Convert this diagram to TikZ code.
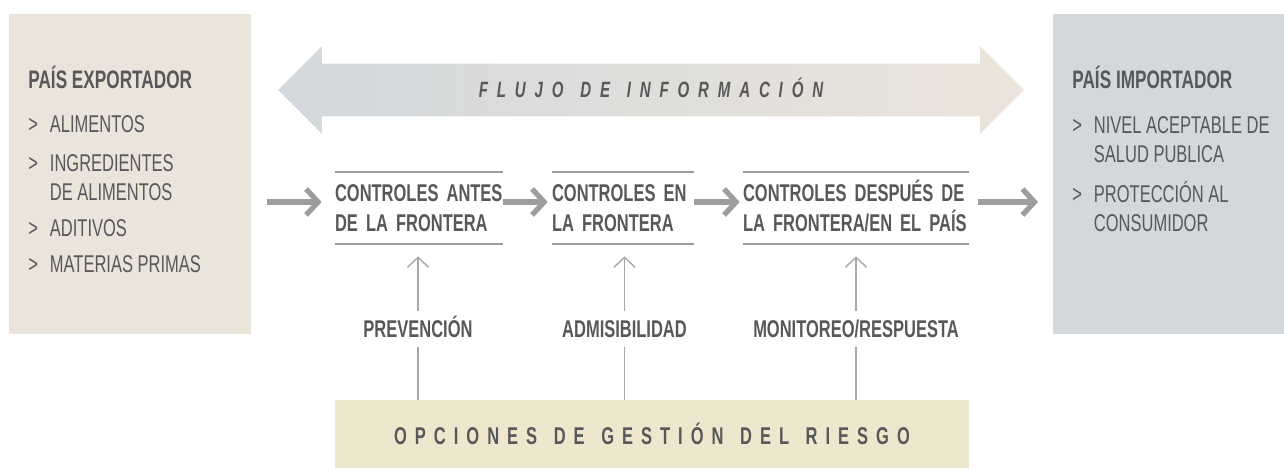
\documentclass[tikz,border=0pt]{standalone}
\usepackage{fontspec}
\setmainfont{Liberation Sans}[FakeStretch=0.68]
\usetikzlibrary{shapes, arrows, arrows.meta}
\definecolor{txtgray}{HTML}{58585A}
\definecolor{expcol}{HTML}{EBE4DA}
\definecolor{impcol}{HTML}{D3D8DC}
\definecolor{optcol}{HTML}{EDE7CD}
\definecolor{arrgray}{HTML}{9D9D9D}
\definecolor{thingray}{HTML}{A8A8A8}
\tikzstyle{panel}=[inner sep=0pt, outer sep=0pt]
\tikzstyle{title}=[anchor=base west, inner sep=0pt,
    font=\fontsize{14.4}{17}\selectfont\bfseries, text=txtgray]
\tikzstyle{list}=[anchor=base west, inner sep=0pt,
    font=\fontsize{13.8}{16.5}\selectfont, text=txtgray]
\tikzstyle{ctrl}=[inner xsep=0pt, inner ysep=0pt, minimum height=1.44cm,
    text height=10pt, text depth=17pt, align=left,
    font=\fontsize{13.8}{17}\selectfont\bfseries, text=txtgray]
\tikzstyle{opt}=[inner xsep=0pt, inner ysep=0.18cm, text height=0.35cm,
    text depth=0pt, font=\fontsize{13.8}{16}\selectfont\bfseries, text=txtgray]
\tikzstyle{rule}=[draw=arrgray, line width=1.1pt]
\tikzstyle{flow}=[draw=arrgray, line width=3pt,
    -{Straight Barb[length=0.24cm, width=0.52cm]}]
\tikzstyle{feed}=[draw=thingray, line width=0.8pt]
\def\gap{0.24cm}

\begin{document}
\begin{tikzpicture}[x=0.02cm, y=-0.02cm]
    \useasboundingbox (0,0) rectangle (1284,469);
    % paises
    \node (exp) [panel, fill=expcol, minimum width=4.84cm, minimum height=6.4cm] at (130,174) {};
    \node (imp) [panel, fill=impcol, minimum width=4.62cm, minimum height=6.4cm] at (1168.5,174) {};
    \node (expt) [title] at (28,89) {PAÍS EXPORTADOR};
    \node (expl) [list] at (28,132.8) {\begin{tabular}[t]{@{}l@{\hspace{0.24cm}}l@{}}
        > & ALIMENTOS\\[5.5pt]
        > & INGREDIENTES\\
          & DE ALIMENTOS\\[4pt]
        > & ADITIVOS\\[4pt]
        > & MATERIAS PRIMAS
    \end{tabular}};
    \node (impt) [title] at (1072,89) {PAÍS IMPORTADOR};
    \node (impl) [list] at (1072,133.8) {\begin{tabular}[t]{@{}l@{\hspace{0.24cm}}l@{}}
        > & NIVEL ACEPTABLE DE\\
          & SALUD PUBLICA\\[5.5pt]
        > & PROTECCIÓN AL\\
          & CONSUMIDOR
    \end{tabular}};
    % flujo de informacion
    \node (info) [double arrow, double arrow head extend=0.35cm,
        minimum height=14.92cm, minimum width=1.74cm, inner xsep=0pt, inner ysep=0.36cm,
        text height=0.32cm, text depth=0pt, left color=impcol, right color=expcol,
        text=txtgray, font=\fontsize{12.6}{15}\selectfont\bfseries\itshape\addfontfeature{LetterSpace=40}]
        at (651,90) {FLUJO\, DE\, INFORMACIÓN};
    % controles
    \node (ctrl1) [ctrl, text width=3.36cm] at (419,208) {CONTROLES ANTES\\DE LA FRONTERA};
    \node (ctrl2) [ctrl, text width=2.84cm] at (623,208) {CONTROLES EN\\LA FRONTERA};
    \node (ctrl3) [ctrl, text width=4.52cm] at (856,208) {CONTROLES DESPUÉS DE\\LA FRONTERA/EN EL PAÍS};
    \foreach \c in {ctrl1,ctrl2,ctrl3} {
        \draw[rule] (\c.north west) -- (\c.north east);
        \draw[rule] (\c.south west) -- (\c.south east);
    }
    \coordinate (ein) at (267,202);
    \draw[flow, shorten >=0.26cm] (ein) -- (ein -| ctrl1.west);
    \draw[flow, shorten >=0.08cm] (ein -| ctrl1.east) -- (ein -| ctrl2.west);
    \draw[flow, shorten >=0.06cm] (ein -| ctrl2.east) -- (ein -| ctrl3.west);
    \draw[flow, shorten <=0.18cm, shorten >=0.3cm] (ein -| ctrl3.east) -- (ein -| imp.west);
    % opciones de gestion
    \node (opc) [panel, fill=optcol, minimum width=12.68cm, minimum height=1.36cm, text=txtgray,
        font=\fontsize{13.8}{16}\selectfont\bfseries\addfontfeature{LetterSpace=33}]
        at (652,434) {OPCIONES\, DE\, GESTIÓN\, DEL\, RIESGO};
    \node (prev) [opt] at (418,329) {PREVENCIÓN};
    \node (adm) [opt] at (624.5,329) {ADMISIBILIDAD};
    \node (mon) [opt] at (856,329) {MONITOREO/RESPUESTA};
    \foreach \l/\c in {prev/ctrl1, adm/ctrl2, mon/ctrl3} {
        \draw[feed] (opc.north -| \l) -- (\l);
        \draw[feed, -{Straight Barb[length=0.2cm, width=0.42cm]}, shorten >=\gap] (\l) -- (\l |- \c.south);
    }
\end{tikzpicture}
\end{document}
